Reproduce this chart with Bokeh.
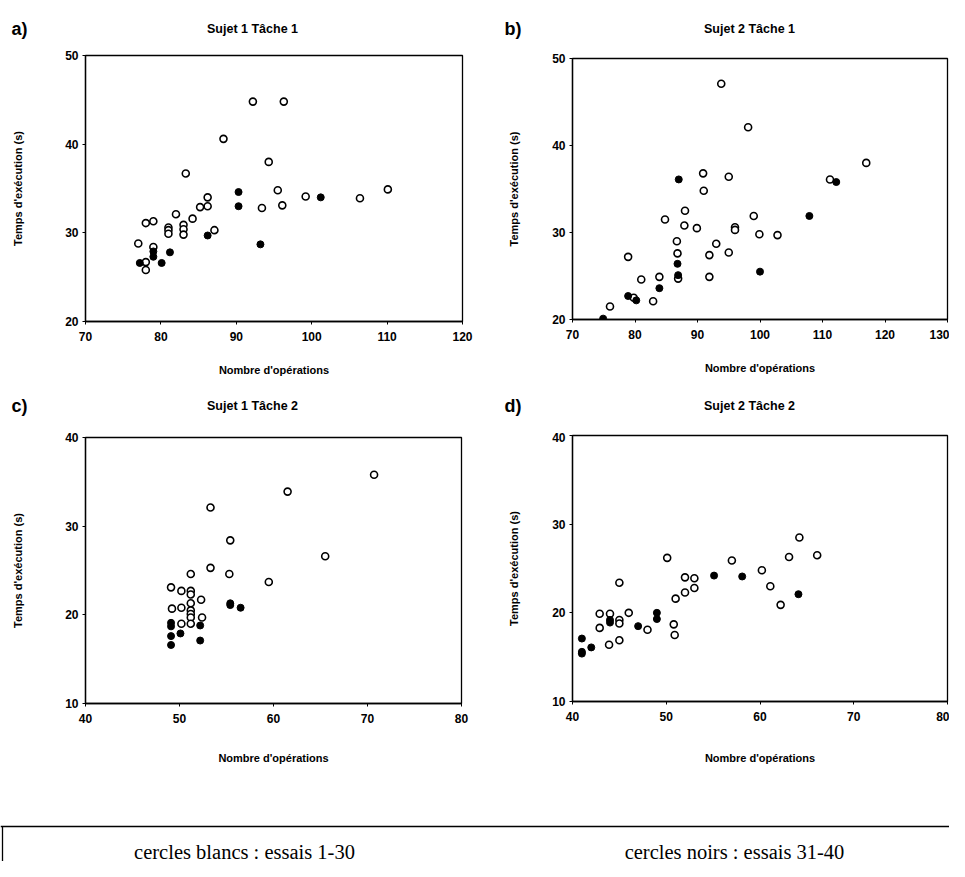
from bokeh.plotting import figure
from bokeh.layouts import column, row
from bokeh.models import Range1d, FixedTicker, ColumnDataSource
from bokeh.core.properties import value
from bokeh.embed import file_html
from bokeh.resources import INLINE

# ---------------- data ----------------
titles = ["Sujet 1 Tâche 1", "Sujet 2 Tâche 1", "Sujet 1 Tâche 2", "Sujet 2 Tâche 2"]
letters = ["a)", "b)", "c)", "d)"]
x_label = "Nombre d'opérations"
y_label = "Temps d'exécution (s)"
legend_white = "cercles blancs : essais 1-30"
legend_black = "cercles noirs : essais 31-40"

# panel a : Sujet 1 Tache 1
a_open_x = [77, 78, 79, 78, 78, 79, 81, 81, 81, 82, 83, 83, 83, 83.3, 84.2, 85.2, 86.2, 86.2,
            87.1, 88.3, 92.2, 96.3, 94.3, 95.5, 93.4, 96.1, 99.2, 106.4, 110.1]
a_open_y = [28.8, 31.1, 31.3, 26.7, 25.8, 28.4, 30.6, 30.3, 29.9, 32.1, 30.9, 30.4, 29.8, 36.7,
            31.6, 32.9, 34.0, 33.0, 30.3, 40.6, 44.8, 44.8, 38.0, 34.8, 32.8, 33.1, 34.1, 33.9, 34.9]
a_fill_x = [77.2, 79, 79, 80.1, 81.2, 86.2, 90.3, 90.3, 93.2, 101.2]
a_fill_y = [26.6, 27.9, 27.3, 26.6, 27.8, 29.7, 34.6, 33.0, 28.7, 34.0]

# panel b : Sujet 2 Tache 1
b_open_x = [93.8, 98.1, 117.0, 111.2, 90.9, 95.0, 91.0, 88.0, 84.8, 87.9, 89.9, 96.0, 96.0,
            99.0, 99.9, 102.8, 86.7, 93.0, 78.9, 86.8, 91.9, 95.0, 81.0, 83.9, 86.9, 91.9,
            76.0, 79.8, 82.9]
b_open_y = [47.1, 42.1, 38.0, 36.1, 36.8, 36.4, 34.8, 32.5, 31.5, 30.8, 30.5, 30.6, 30.3,
            31.9, 29.8, 29.7, 29.0, 28.7, 27.2, 27.6, 27.4, 27.7, 24.6, 24.9, 24.7, 24.9,
            21.5, 22.5, 22.1]
b_fill_x = [87.0, 112.2, 107.9, 100.0, 86.8, 86.9, 83.9, 78.9, 80.2, 74.9]
b_fill_y = [36.1, 35.8, 31.9, 25.5, 26.4, 25.1, 23.6, 22.7, 22.2, 20.1]

# panel c : Sujet 1 Tache 2
c_open_x = [70.7, 61.5, 53.3, 55.4, 65.5, 53.3, 51.2, 55.3, 59.5, 49.1, 50.2, 52.3, 49.2,
            50.2, 51.2, 51.2, 51.2, 51.2, 51.2, 51.2, 52.4, 50.2, 51.2]
c_open_y = [35.8, 33.9, 32.1, 28.4, 26.6, 25.3, 24.6, 24.6, 23.7, 23.1, 22.7, 21.7, 20.7,
            20.8, 22.7, 22.3, 21.3, 20.5, 20.1, 19.7, 19.7, 19.0, 19.0]
c_fill_x = [49.1, 49.1, 49.1, 49.1, 50.1, 52.2, 52.2, 55.4, 55.4, 56.5]
c_fill_y = [19.1, 18.7, 17.6, 16.6, 17.9, 18.8, 17.1, 21.3, 21.1, 20.8]

# panel d : Sujet 2 Tache 2
d_open_x = [64.2, 66.1, 63.1, 50.1, 57.0, 60.2, 52.0, 53.0, 61.1, 53.0, 52.0, 51.0, 62.2,
            45.0, 42.9, 44.0, 46.0, 42.9, 45.0, 45.0, 48.0, 50.8, 50.9, 43.9, 45.0]
d_open_y = [28.5, 26.5, 26.3, 26.2, 25.9, 24.8, 24.0, 23.9, 23.0, 22.8, 22.3, 21.6, 20.9,
            23.4, 19.9, 19.9, 20.0, 18.3, 19.2, 18.8, 18.1, 18.7, 17.5, 16.4, 16.9]
d_fill_x = [55.1, 58.1, 64.1, 49.0, 49.0, 47.0, 44.0, 44.0, 41.0, 42.0, 41.0, 41.0]
d_fill_y = [24.2, 24.1, 22.1, 20.0, 19.3, 18.5, 19.2, 18.9, 17.1, 16.1, 15.6, 15.4]

ranges = [((70, 120), (20, 50)), ((70, 130), (20, 50)), ((40, 80), (10, 40)), ((40, 80), (10, 40))]
x_ticks = [[70, 80, 90, 100, 110, 120], [70, 80, 90, 100, 110, 120, 130],
           [40, 50, 60, 70, 80], [40, 50, 60, 70, 80]]
y_ticks = [[20, 30, 40, 50], [20, 30, 40, 50], [10, 20, 30, 40], [10, 20, 30, 40]]

series = [(a_open_x, a_open_y, a_fill_x, a_fill_y),
          (b_open_x, b_open_y, b_fill_x, b_fill_y),
          (c_open_x, c_open_y, c_fill_x, c_fill_y),
          (d_open_x, d_open_y, d_fill_x, d_fill_y)]

# geometry: width, header height, plot height, borders left/right/top/bottom,
# y-label standoff, x-label standoff, header text y (from header bottom),
# letter x, title centre x (header coordinates)
geom = [
    (498, 50, 340, 85, 36, 5, 69, 38, 20, 22, 11, 252),
    (451, 50, 340, 74, 2, 8, 71, 29, 20, 22, 6, 251),
    (498, 42, 358, 85, 37, 5, 87, 38, 26, 27, 11, 252),
    (451, 42, 358, 74, 2, 3, 89, 29, 28, 27, 6, 251),
]

FONT = "Liberation Sans"


def header(i):
    w, hh, h, bl, br, bt, bb, yst, xst, ty, lx, tx = geom[i]
    hd = figure(width=w, height=hh, output_backend="svg", toolbar_location=None,
                x_range=Range1d(0, w), y_range=Range1d(0, hh),
                min_border_left=0, min_border_right=0, min_border_top=0, min_border_bottom=0)
    hd.axis.visible = False
    hd.grid.visible = False
    hd.outline_line_color = None
    hd.background_fill_color = "white"
    hd.border_fill_color = "white"
    src_l = ColumnDataSource(dict(x=[lx], y=[ty], t=[letters[i]]))
    hd.text(x="x", y="y", text="t", source=src_l, text_font=value(FONT),
            text_font_style="bold", text_font_size="18px", text_align="left",
            text_baseline="middle", text_color="black")
    src_t = ColumnDataSource(dict(x=[tx], y=[ty], t=[titles[i]]))
    hd.text(x="x", y="y", text="t", source=src_t, text_font=value(FONT),
            text_font_style="bold", text_font_size="12.5px", text_align="center",
            text_baseline="middle", text_color="black")
    return row(hd, spacing=0)


panels = []
for i in range(4):
    w, hh, h, bl, br, bt, bb, yst, xst, ty, lx, tx = geom[i]
    (x0, x1), (y0, y1) = ranges[i]
    p = figure(width=w, height=h, output_backend="svg", toolbar_location=None,
               x_range=Range1d(x0, x1), y_range=Range1d(y0, y1),
               min_border_left=bl, min_border_right=br, min_border_top=bt, min_border_bottom=bb)
    p.background_fill_color = "white"
    p.border_fill_color = "white"
    p.outline_line_color = "black"
    p.outline_line_width = 1.3
    p.grid.visible = False

    p.xaxis.ticker = FixedTicker(ticks=x_ticks[i])
    p.yaxis.ticker = FixedTicker(ticks=y_ticks[i])
    for ax in (p.xaxis, p.yaxis):
        ax.axis_line_color = "black"
        ax.axis_line_width = 1.3
        ax.major_tick_line_color = "black"
        ax.major_tick_out = 3
        ax.major_tick_in = 0
        ax.minor_tick_line_color = None
        ax.major_label_text_font = FONT
        ax.major_label_text_font_style = "bold"
        ax.major_label_text_font_size = "12px"
        ax.major_label_text_color = "black"
        ax.axis_label_text_font = FONT
        ax.axis_label_text_font_style = "bold"
        ax.axis_label_text_font_size = "11px"
        ax.axis_label_text_color = "black"
    p.xaxis.axis_label = x_label
    p.yaxis.axis_label = y_label
    p.xaxis.major_label_standoff = 7
    p.yaxis.major_label_standoff = 4
    p.xaxis.axis_label_standoff = xst
    p.yaxis.axis_label_standoff = yst

    ox, oy, fx, fy = series[i]
    p.scatter(ox, oy, size=7, marker="circle", fill_color="white",
              line_color="black", line_width=1.6)
    p.scatter(fx, fy, size=7, marker="circle", fill_color="black",
              line_color="black", line_width=1.0)
    panels.append(column(header(i), p, spacing=0))

# bottom legend box
bw, bh = 949, 71
q = figure(width=bw, height=bh, output_backend="svg", toolbar_location=None,
           x_range=Range1d(0, bw), y_range=Range1d(0, bh),
           min_border_left=0, min_border_right=0, min_border_top=0, min_border_bottom=0)
q.axis.visible = False
q.grid.visible = False
q.outline_line_color = None
q.background_fill_color = "white"
q.border_fill_color = "white"
box_src = ColumnDataSource(dict(x0=[0, 2], y0=[35, 35], x1=[bw, 2], y1=[35, 0]))
q.segment(x0="x0", y0="y0", x1="x1", y1="y1", source=box_src, line_color="black", line_width=1.3)
txt_src = ColumnDataSource(dict(x=[244, 734], y=[10, 10], t=[legend_white, legend_black]))
q.text(x="x", y="y", text="t", source=txt_src, text_font=value("Liberation Serif"),
       text_font_size="20.5px", text_align="center", text_baseline="middle", text_color="black")

layout = column(row(panels[0], panels[1], spacing=0), row(panels[2], panels[3], spacing=0),
                q, spacing=0)

with open("out.html", "w") as f:
    f.write(file_html(layout, INLINE))
